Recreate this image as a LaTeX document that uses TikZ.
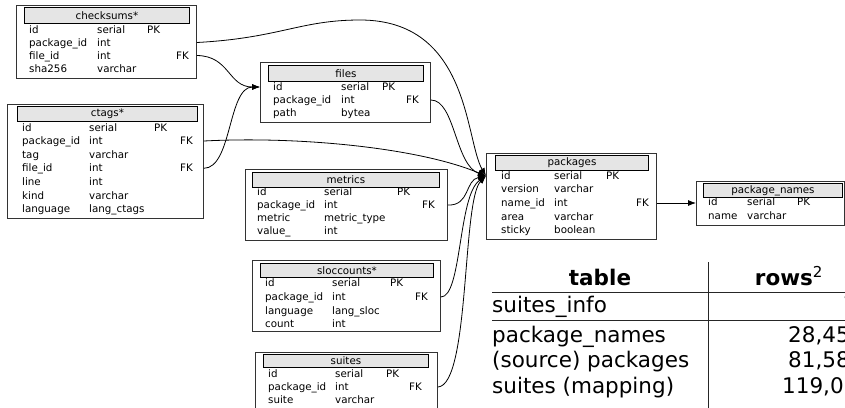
\documentclass[tikz,border=0pt]{standalone}
\usepackage{fontspec}
\newfontfamily\dbfont{DejaVu Sans}
\usetikzlibrary{arrows.meta}

\tikzset{
  tblbox/.style={draw=black!80, line width=0.9pt, fill=white, inner sep=0pt, anchor=north west},
  tblhead/.style={draw=black, line width=0.9pt, fill=black!10, inner sep=0pt, anchor=north west,
    font=\dbfont\fontsize{10.3}{12}\selectfont},
  cell/.style={inner sep=0pt, anchor=base west, font=\dbfont\fontsize{10.3}{12}\selectfont},
  fk/.style={line width=0.8pt, -{Latex[length=8pt,width=6pt]}},
  sumtxt/.style={inner sep=0pt, font=\dbfont\fontsize{21.5}{25}\selectfont},
  sumrule/.style={line width=0.7pt, draw=black!85},
}

% one row of a table: name, baseline, field, type
\newcommand\dbrow[4]{%
  \node[cell] (#1-f) at (\dbcolf,#2) {#3};
  \node[cell] (#1-t) at (\dbcolt,#2) {#4};
}
% key marker of a row: name, x, baseline, text
\newcommand\dbkey[4]{\node[cell] (#1-k) at (#2,#3) {#4};}

\begin{document}
\begin{tikzpicture}[x=1pt,y=-1pt]
\useasboundingbox (0,0) rectangle (845,407);
\clip (0,0) rectangle (845,407);

% ---------- checksums ----------
\node[tblbox, minimum width=180pt, minimum height=73pt] (checksums) at (16,5) {};
\node[tblhead, minimum width=165pt, minimum height=16pt] (checksums-h) at (24,7) {checksums*};
\def\dbcolf{29}\def\dbcolt{97}
\dbrow{cs1}{33}{id}{serial}\dbkey{cs1}{147}{33}{PK}
\dbrow{cs2}{46}{package\_id}{int}
\dbrow{cs3}{59}{file\_id}{int}\dbkey{cs3}{176}{59}{FK}
\dbrow{cs4}{72}{sha256}{varchar}

% ---------- ctags ----------
\node[tblbox, minimum width=196pt, minimum height=114pt] (ctags) at (7,104) {};
\node[tblhead, minimum width=180pt, minimum height=15pt] (ctags-h) at (17,106) {ctags*};
\def\dbcolf{22}\def\dbcolt{89}
\dbrow{ct1}{131}{id}{serial}\dbkey{ct1}{154}{131}{PK}
\dbrow{ct2}{144.5}{package\_id}{int}\dbkey{ct2}{180}{144.5}{FK}
\dbrow{ct3}{158.2}{tag}{varchar}
\dbrow{ct4}{171.8}{file\_id}{int}\dbkey{ct4}{180}{171.8}{FK}
\dbrow{ct5}{185.4}{line}{int}
\dbrow{ct6}{199}{kind}{varchar}
\dbrow{ct7}{212.5}{language}{lang\_ctags}

% ---------- files ----------
\node[tblbox, minimum width=170pt, minimum height=60pt] (files) at (260,62) {};
\node[tblhead, minimum width=155pt, minimum height=16pt] (files-h) at (268,65) {files};
\def\dbcolf{273}\def\dbcolt{341}
\dbrow{fi1}{90.5}{id}{serial}\dbkey{fi1}{382}{90.5}{PK}
\dbrow{fi2}{103.5}{package\_id}{int}\dbkey{fi2}{406}{103.5}{FK}
\dbrow{fi3}{116.5}{path}{bytea}

% ---------- metrics ----------
\node[tblbox, minimum width=202pt, minimum height=71pt] (metrics) at (245,169) {};
\node[tblhead, minimum width=187pt, minimum height=15pt] (metrics-h) at (252,172) {metrics};
\def\dbcolf{257}\def\dbcolt{324}
\dbrow{me1}{195.5}{id}{serial}\dbkey{me1}{397}{195.5}{PK}
\dbrow{me2}{208.5}{package\_id}{int}\dbkey{me2}{422}{208.5}{FK}
\dbrow{me3}{221.5}{metric}{metric\_type}
\dbrow{me4}{234.5}{value\_}{int}

% ---------- sloccounts ----------
\node[tblbox, minimum width=188pt, minimum height=71pt] (sloccounts) at (252,260) {};
\node[tblhead, minimum width=173pt, minimum height=14pt] (sloccounts-h) at (260,263) {sloccounts*};
\def\dbcolf{265}\def\dbcolt{332}
\dbrow{sl1}{286.5}{id}{serial}\dbkey{sl1}{390}{286.5}{PK}
\dbrow{sl2}{300.5}{package\_id}{int}\dbkey{sl2}{415}{300.5}{FK}
\dbrow{sl3}{314.5}{language}{lang\_sloc}
\dbrow{sl4}{327.5}{count}{int}

% ---------- suites ----------
\node[tblbox, minimum width=182pt, minimum height=70pt] (suites) at (255,352) {};
\node[tblhead, minimum width=165pt, minimum height=13pt] (suites-h) at (263,354) {suites};
\def\dbcolf{268}\def\dbcolt{335}
\dbrow{su1}{377.5}{id}{serial}\dbkey{su1}{386}{377.5}{PK}
\dbrow{su2}{390.5}{package\_id}{int}\dbkey{su2}{409}{390.5}{FK}
\dbrow{su3}{403.5}{suite}{varchar}

% ---------- packages ----------
\node[tblbox, minimum width=170pt, minimum height=86pt] (packages) at (486,153) {};
\node[tblhead, minimum width=153pt, minimum height=15pt] (packages-h) at (495,155) {packages};
\def\dbcolf{501}\def\dbcolt{554}
\dbrow{pk1}{179.5}{id}{serial}\dbkey{pk1}{606}{179.5}{PK}
\dbrow{pk2}{192.5}{version}{varchar}
\dbrow{pk3}{206.5}{name\_id}{int}\dbkey{pk3}{636}{206.5}{FK}
\dbrow{pk4}{220.5}{area}{varchar}
\dbrow{pk5}{233.5}{sticky}{boolean}

% ---------- package_names ----------
\node[tblbox, minimum width=148pt, minimum height=44pt] (package_names) at (696,181) {};
\node[tblhead, minimum width=139pt, minimum height=14pt] (package_names-h) at (703,183) {package\_names};
\def\dbcolf{708}\def\dbcolt{747}
\dbrow{pn1}{205.5}{id}{serial}\dbkey{pn1}{797}{205.5}{PK}
\dbrow{pn2}{219.5}{name}{varchar}

% ---------- foreign keys ----------
% into files.id
\draw[fk] ([yshift=3.5pt]checksums.east |- cs3-f.base)
  .. controls (230,56) and (228,87) .. ([yshift=3.5pt]files.west |- fi1-f.base);
\draw[fk] ([yshift=3.5pt]ctags.east |- ct4-f.base)
  .. controls (232,168) and (228,87) .. ([yshift=3.5pt]files.west |- fi1-f.base);
% into packages.id
\draw[fk] ([yshift=3.5pt]checksums.east |- cs2-f.base)
  .. controls (280,38) and (300,20) .. (360,20)
  .. controls (470,20) and (465,140) .. ([yshift=3.5pt]packages.west |- pk1-f.base);
\draw[fk] ([yshift=3.5pt]ctags.east |- ct2-f.base)
  .. controls (300,136) and (420,148) .. ([yshift=3.5pt]packages.west |- pk1-f.base);
\draw[fk] ([yshift=3.5pt]files.east |- fi2-f.base)
  .. controls (455,100) and (455,165) .. ([yshift=3.5pt]packages.west |- pk1-f.base);
\draw[fk] ([yshift=3.5pt]metrics.east |- me2-f.base)
  .. controls (470,206) and (465,180) .. ([yshift=3.5pt]packages.west |- pk1-f.base);
\draw[fk] ([yshift=3.5pt]sloccounts.east |- sl2-f.base)
  .. controls (462,297) and (458,195) .. ([yshift=3.5pt]packages.west |- pk1-f.base);
\draw[fk] ([yshift=3.5pt]suites.east |- su2-f.base)
  .. controls (470,385) and (462,200) .. ([yshift=3.5pt]packages.west |- pk1-f.base);
% into package_names.id
\draw[fk] ([yshift=3.5pt]packages.east |- pk3-f.base) -- ([yshift=3.5pt]package_names.west |- pk3-f.base);

% ---------- row counts ----------
\draw[sumrule] (708,262) -- (708,410);
\draw[sumrule] (492,292) -- (850,292);
\draw[sumrule] (492,320) -- (850,320);
\node[sumtxt, anchor=base] (hd-table) at (600,285) {\bfseries table};
\node[sumtxt, anchor=base] (hd-rows) at (789,285) {\textbf{rows}\textsuperscript{2}};
\node[sumtxt, anchor=base west] (r1-name) at (492,312) {suites\_info};
\node[sumtxt, anchor=base west] (r2-name) at (492,342) {package\_names};
\node[sumtxt, anchor=base west] (r3-name) at (492,367.5) {(source) packages};
\node[sumtxt, anchor=base west] (r4-name) at (492,393) {suites (mapping)};
\node[sumtxt, anchor=base west] (r1-val) at (843,312) {7};
\node[sumtxt, anchor=base west] (r2-val) at (788,342) {28,45};
\node[sumtxt, anchor=base west] (r3-val) at (788,367.5) {81,58};
\node[sumtxt, anchor=base west] (r4-val) at (782,393) {119,07};
\end{tikzpicture}
\end{document}
